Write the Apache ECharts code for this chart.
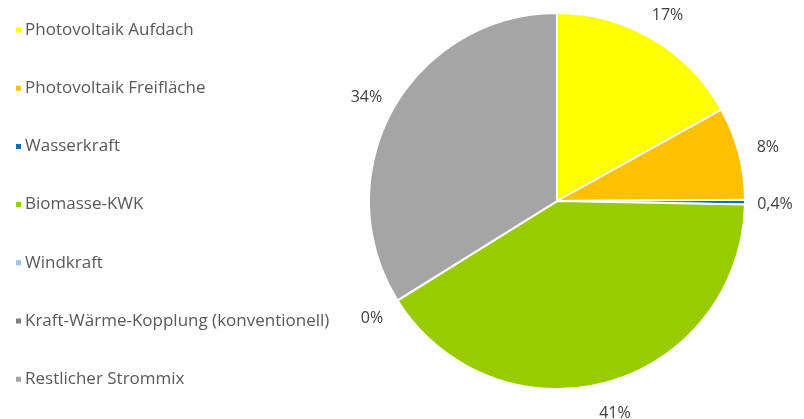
<!DOCTYPE html>
<html><head><meta charset="utf-8">
<script src="https://cdn.jsdelivr.net/npm/echarts@6/dist/echarts.min.js"></script>
<style>html,body{margin:0;padding:0;background:#fff}#c{width:804px;height:419px}</style>
</head><body><div id="c"></div>
<script>
var categories = ['Photovoltaik Aufdach','Photovoltaik Freifläche','Wasserkraft','Biomasse-KWK','Windkraft','Kraft-Wärme-Kopplung (konventionell)','Restlicher Strommix'];
var shares = [17, 8, 0.4, 41, 0, 0, 34];
var colors = ['#FFFF00','#FFC000','#0070C0','#99CC00','#9DC3E6','#7F7F7F','#A5A5A5'];

var FONT = 'Open Sans';
function fmt(v){ return (v > 0 && v < 1) ? String(v).replace('.', ',') + '%' : Math.round(v) + '%'; }
var data = categories.map(function(n,i){ return {name:n, value:shares[i], itemStyle:{color:colors[i]}}; });
var labelData = categories.map(function(n,i){ return {name:n, value:shares[i]}; });

var chart = echarts.init(document.getElementById('c'), null, {renderer:'canvas'});
chart.setOption({
  animation:false,
  legend:{
    orient:'vertical', left:9, top:15, icon:'rect', itemWidth:7, itemHeight:7, itemGap:38.2,
    data:categories, selectedMode:false,
    textStyle:{fontFamily:FONT, fontSize:17, color:'#595959', lineHeight:20, padding:[0,0,0,-2]}
  },
  series:[{
    type:'pie', center:[557,201], radius:188, startAngle:90, clockwise:true,
    stillShowZeroSum:true, avoidLabelOverlap:false, silent:true,
    itemStyle:{borderColor:'#fff', borderWidth:2},
    label:{show:false}, labelLine:{show:false},
    data:data
  },{
    type:'pie', center:[557,201], radius:[188,242], startAngle:90, clockwise:true,
    avoidLabelOverlap:false, silent:true, legendHoverLink:false,
    itemStyle:{color:'rgba(0,0,0,0)', borderWidth:0},
    label:{show:true, position:'inside', fontFamily:FONT, fontSize:16, color:'#404040',
      offset:[0,2],
      formatter:function(p){ return fmt(p.value); }},
    labelLine:{show:false},
    data:labelData
  }]
});
</script></body></html>
